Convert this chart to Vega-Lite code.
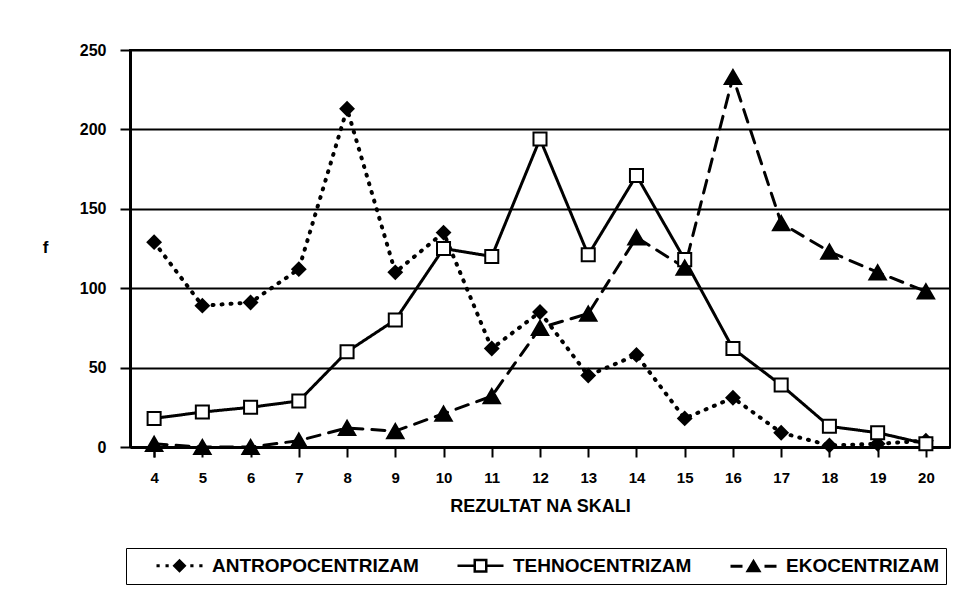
{
  "$schema": "https://vega.github.io/schema/vega-lite/v6.json",
  "width": 820,
  "height": 397,
  "autosize": {"type": "none"},
  "padding": {"left": 130, "top": 50, "right": 4, "bottom": 157},
  "background": "white",
  "config": {
    "font": "Liberation Sans",
    "view": {"stroke": "black", "strokeWidth": 2},
    "axis": {"domainColor": "black", "tickColor": "black", "labelColor": "black", "titleColor": "black", "labelFont": "Liberation Sans", "titleFont": "Liberation Sans"}
  },
  "data": {
    "values": [
      {"x": 4, "series": "ANTROPOCENTRIZAM", "f": 129},
      {"x": 5, "series": "ANTROPOCENTRIZAM", "f": 89},
      {"x": 6, "series": "ANTROPOCENTRIZAM", "f": 91},
      {"x": 7, "series": "ANTROPOCENTRIZAM", "f": 112},
      {"x": 8, "series": "ANTROPOCENTRIZAM", "f": 213},
      {"x": 9, "series": "ANTROPOCENTRIZAM", "f": 110},
      {"x": 10, "series": "ANTROPOCENTRIZAM", "f": 135},
      {"x": 11, "series": "ANTROPOCENTRIZAM", "f": 62},
      {"x": 12, "series": "ANTROPOCENTRIZAM", "f": 85},
      {"x": 13, "series": "ANTROPOCENTRIZAM", "f": 45},
      {"x": 14, "series": "ANTROPOCENTRIZAM", "f": 58},
      {"x": 15, "series": "ANTROPOCENTRIZAM", "f": 18},
      {"x": 16, "series": "ANTROPOCENTRIZAM", "f": 31},
      {"x": 17, "series": "ANTROPOCENTRIZAM", "f": 9},
      {"x": 18, "series": "ANTROPOCENTRIZAM", "f": 1},
      {"x": 19, "series": "ANTROPOCENTRIZAM", "f": 2},
      {"x": 20, "series": "ANTROPOCENTRIZAM", "f": 4},
      {"x": 4, "series": "TEHNOCENTRIZAM", "f": 18},
      {"x": 5, "series": "TEHNOCENTRIZAM", "f": 22},
      {"x": 6, "series": "TEHNOCENTRIZAM", "f": 25},
      {"x": 7, "series": "TEHNOCENTRIZAM", "f": 29},
      {"x": 8, "series": "TEHNOCENTRIZAM", "f": 60},
      {"x": 9, "series": "TEHNOCENTRIZAM", "f": 80},
      {"x": 10, "series": "TEHNOCENTRIZAM", "f": 125},
      {"x": 11, "series": "TEHNOCENTRIZAM", "f": 120},
      {"x": 12, "series": "TEHNOCENTRIZAM", "f": 194},
      {"x": 13, "series": "TEHNOCENTRIZAM", "f": 121},
      {"x": 14, "series": "TEHNOCENTRIZAM", "f": 171},
      {"x": 15, "series": "TEHNOCENTRIZAM", "f": 118},
      {"x": 16, "series": "TEHNOCENTRIZAM", "f": 62},
      {"x": 17, "series": "TEHNOCENTRIZAM", "f": 39},
      {"x": 18, "series": "TEHNOCENTRIZAM", "f": 13},
      {"x": 19, "series": "TEHNOCENTRIZAM", "f": 9},
      {"x": 20, "series": "TEHNOCENTRIZAM", "f": 2},
      {"x": 4, "series": "EKOCENTRIZAM", "f": 2},
      {"x": 5, "series": "EKOCENTRIZAM", "f": 0},
      {"x": 6, "series": "EKOCENTRIZAM", "f": 0},
      {"x": 7, "series": "EKOCENTRIZAM", "f": 4},
      {"x": 8, "series": "EKOCENTRIZAM", "f": 12},
      {"x": 9, "series": "EKOCENTRIZAM", "f": 10},
      {"x": 10, "series": "EKOCENTRIZAM", "f": 21},
      {"x": 11, "series": "EKOCENTRIZAM", "f": 32},
      {"x": 12, "series": "EKOCENTRIZAM", "f": 75},
      {"x": 13, "series": "EKOCENTRIZAM", "f": 84},
      {"x": 14, "series": "EKOCENTRIZAM", "f": 132},
      {"x": 15, "series": "EKOCENTRIZAM", "f": 113},
      {"x": 16, "series": "EKOCENTRIZAM", "f": 233},
      {"x": 17, "series": "EKOCENTRIZAM", "f": 141},
      {"x": 18, "series": "EKOCENTRIZAM", "f": 123},
      {"x": 19, "series": "EKOCENTRIZAM", "f": 110},
      {"x": 20, "series": "EKOCENTRIZAM", "f": 98}
    ]
  },
  "encoding": {
    "x": {
      "field": "x", "type": "ordinal", "sort": "ascending",
      "scale": {"paddingInner": 0, "paddingOuter": 0},
      "axis": {
        "title": "REZULTAT NA SKALI", "bandPosition": 1, "tickExtra": true,
        "tickSize": 10, "tickWidth": 2, "domainWidth": 3, "labelAngle": 0,
        "labelFontSize": 15, "labelFontWeight": "bold", "labelPadding": 13,
        "titleFontSize": 18, "titleFontWeight": "bold", "titlePadding": 12, "grid": false
      }
    },
    "y": {
      "field": "f", "type": "quantitative",
      "scale": {"domain": [0, 250], "nice": false},
      "axis": {
        "title": "f", "values": [0, 50, 100, 150, 200, 250],
        "tickSize": 10, "tickWidth": 2, "domainWidth": 3,
        "grid": true, "gridColor": "black", "gridWidth": 2, "gridOpacity": 1,
        "labelFontSize": 16, "labelFontWeight": "bold", "labelPadding": 14,
        "titleAngle": 0, "titleX": -85, "titleY": 197, "titleBaseline": "middle", "titleAlign": "center",
        "titleFontSize": 17, "titleFontWeight": "bold"
      }
    }
  },
  "layer": [
    {
      "mark": {"type": "line", "color": "black", "strokeCap": "round", "strokeJoin": "round"},
      "encoding": {
        "detail": {"field": "series", "type": "nominal"},
        "strokeDash": {
          "condition": [
            {"test": "datum.series === 'ANTROPOCENTRIZAM'", "value": [1, 8]},
            {"test": "datum.series === 'EKOCENTRIZAM'", "value": [13, 9]}
          ],
          "value": [1, 0]
        },
        "strokeWidth": {
          "condition": {"test": "datum.series === 'ANTROPOCENTRIZAM'", "value": 4},
          "value": 3
        }
      }
    },
    {
      "mark": {"type": "point", "filled": true, "stroke": "black", "strokeWidth": 2, "opacity": 1},
      "encoding": {
        "shape": {
          "condition": [
            {"test": "datum.series === 'ANTROPOCENTRIZAM'", "value": "diamond"},
            {"test": "datum.series === 'TEHNOCENTRIZAM'", "value": "square"}
          ],
          "value": "triangle-up"
        },
        "fill": {
          "condition": {"test": "datum.series === 'TEHNOCENTRIZAM'", "value": "white"},
          "value": "black"
        },
        "size": {
          "condition": {"test": "datum.series === 'EKOCENTRIZAM'", "value": 270},
          "value": 170
        }
      }
    },
    {
      "mark": {"type": "point", "filled": true, "color": "black", "opacity": 0},
      "encoding": {
        "shape": {
          "field": "series", "type": "nominal",
          "scale": {
            "domain": ["ANTROPOCENTRIZAM", "TEHNOCENTRIZAM", "EKOCENTRIZAM"],
            "range": [
              "M-1.15,0M1.3,-0.16L1.62,-0.16L1.62,0.16L1.3,0.16ZM2.2,-0.16L2.52,-0.16L2.52,0.16L2.2,0.16ZM4.68,-0.16L5,-0.16L5,0.16L4.68,0.16ZM5.58,-0.16L5.9,-0.16L5.9,0.16L5.58,0.16ZM3.6,-0.7L4.3,0L3.6,0.7L2.9,0Z",
              "M-1.15,0M1.3,-0.13L2.9,-0.13L2.9,0.13L1.3,0.13ZM4.3,-0.13L5.9,-0.13L5.9,0.13L4.3,0.13ZM2.9,-0.7L4.3,-0.7L4.3,0.7L2.9,0.7ZM3.15,-0.45L3.15,0.45L4.05,0.45L4.05,-0.45Z",
              "M-1.15,0M1.3,-0.15L2.5,-0.15L2.5,0.15L1.3,0.15ZM4.7,-0.15L5.9,-0.15L5.9,0.15L4.7,0.15ZM3.6,-0.75L4.4,0.6L2.8,0.6Z"
            ]
          },
          "legend": {
            "title": null, "orient": "none", "legendX": -4, "legendY": 498, "direction": "horizontal",
            "strokeColor": "black", "padding": 6, "symbolSize": 400, "symbolOpacity": 1,
            "symbolFillColor": "black", "symbolStrokeColor": "black", "symbolStrokeWidth": 2.5,
            "labelOffset": 57, "labelFontSize": 19, "labelFontWeight": "bold", "labelColor": "black",
            "labelFont": "Liberation Sans", "labelLimit": 400, "columnPadding": 9,
            "encode": {
              "legend": {"strokeWidth": {"value": 2}},
              "symbols": {
                "fill": {"value": "black"},
                "opacity": {"value": 1}
              }
            }
          }
        }
      }
    }
  ]
}
